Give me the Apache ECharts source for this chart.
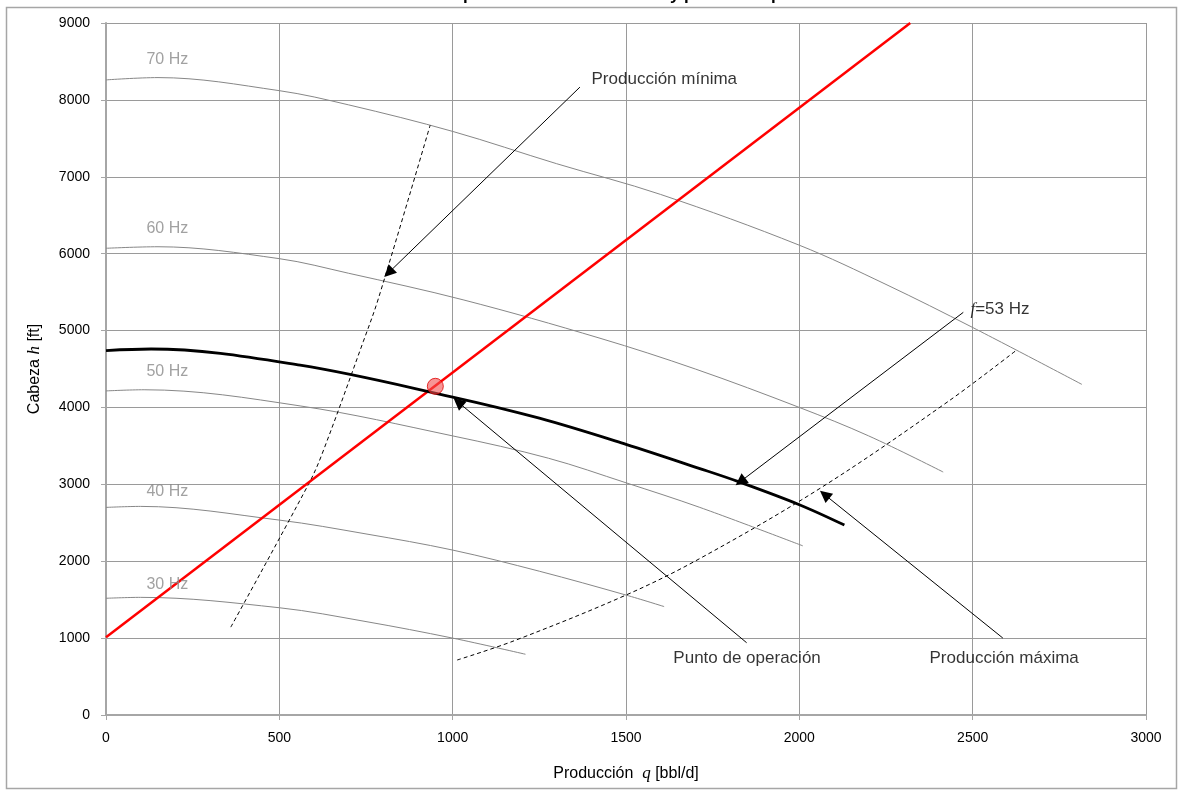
<!DOCTYPE html>
<html>
<head>
<meta charset="utf-8">
<script src="https://cdn.jsdelivr.net/npm/echarts@6/dist/echarts.min.js"></script>
<style>
  html, body { margin: 0; padding: 0; background: #ffffff; }
  #chart { width: 1183px; height: 793px; }
</style>
</head>
<body>
<div id="chart"></div>
<script>
// Pump head curves at several drive frequencies (q in bbl/d, h in ft)
const q70 = [0, 150, 500, 700, 1000, 1300, 1600, 2000, 2250, 2500, 2815];
const h70 = [8260, 8290, 8120, 7935, 7590, 7170, 6770, 6110, 5600, 5040, 4300];
const q60 = [0, 150, 500, 700, 1030, 1425, 1700, 2000, 2200, 2415];
const h60 = [6070, 6090, 5935, 5745, 5400, 4900, 4500, 4000, 3630, 3160];
const q50 = [0, 110, 560, 1000, 1276, 1500, 1713, 2010];
const h50 = [4215, 4230, 4020, 3630, 3340, 3020, 2700, 2200];
const q40 = [0, 100, 500, 750, 1000, 1250, 1500, 1610];
const h40 = [2700, 2713, 2535, 2355, 2145, 1870, 1560, 1410];
const q30 = [0, 100, 500, 750, 1000, 1210];
const h30 = [1518, 1530, 1395, 1215, 1000, 790];

// Selected frequency f = 53 Hz
const q53 = [0, 130, 560, 1000, 1250, 1500, 1713, 1824, 2000, 2130];
const h53 = [4740, 4760, 4550, 4135, 3860, 3520, 3205, 3035, 2735, 2470];

// System curve
const sysQ = [0, 2320];
const sysH = [1010, 9000];

// Operating point
const opQ = 950;
const opH = 4275;

// Minimum and maximum production limits
const minQ = [360, 584, 622, 742, 786, 935];
const minH = [1143, 3000, 3380, 4855, 5420, 7670];
const maxQ = [1013, 1177, 1500, 1713, 2064, 2430, 2625];
const maxH = [715, 965, 1560, 2035, 2960, 4080, 4740];

// Frequency labels (left edge, vertical centre)
const freqText = ['70 Hz', '60 Hz', '50 Hz', '40 Hz', '30 Hz'];
const freqTextQ = [118, 118, 118, 118, 118];
const freqTextH = [8520, 6320, 4460, 2900, 1690];

// Annotation labels and their arrows
const noteText = ['Producción mínima', '{i|f}=53 Hz', 'Punto de operación', 'Producción máxima'];
const noteTextQ = [1402, 2495, 1638, 2377];
const noteTextH = [8258, 5267, 728, 728];
const arrowFromQ = [1367, 2473, 1848, 2587];
const arrowFromH = [8166, 5237, 940, 1001];
const arrowToQ = [815, 1830, 1016, 2073];
const arrowToH = [5752, 3036, 4068, 2866];

// Axis ticks
const xMin = 0, xMax = 3000, xStep = 500;
const yMin = 0, yMax = 9000, yStep = 1000;

const FONT = "'Liberation Sans', Arial, sans-serif";
const SERIF = "'Liberation Serif', 'Times New Roman', serif";

const zip = (a, b) => a.map((v, i) => [v, b[i]]);

function pumpCurve(q, h, color, width) {
  return {
    type: 'line', data: zip(q, h), showSymbol: false, smooth: 0.35,
    lineStyle: { color: color, width: width }, silent: true, z: 3
  };
}

function dashedLimit(q, h) {
  return {
    type: 'line', data: zip(q, h), showSymbol: false, smooth: 0.35,
    lineStyle: { color: '#000', width: 1, type: [4, 3] }, silent: true, z: 3
  };
}

function textSeries(texts, qs, hs, style) {
  return {
    type: 'scatter', symbolSize: 1, silent: true, z: 10,
    itemStyle: { color: 'rgba(0,0,0,0)' },
    data: texts.map((t, i) => ({
      value: [qs[i], hs[i]],
      label: {
        show: true, position: [0, 0], align: 'left', verticalAlign: 'middle',
        formatter: t, color: style.color, fontSize: style.fontSize, fontFamily: FONT,
        rich: {
          i: { fontFamily: SERIF, fontStyle: 'italic', fontSize: style.fontSize, color: style.color }
        }
      }
    }))
  };
}

const plainNumber = v => String(v);

const chart = echarts.init(document.getElementById('chart'), null, { renderer: 'canvas' });

chart.setOption({
  animation: false,
  backgroundColor: '#ffffff',
  title: {
    text: 'Curvas de comportamiento de la bomba y punto de operación',
    left: 'center', top: -18,
    textStyle: { fontFamily: FONT, fontSize: 17, fontWeight: 'bold', color: '#000' }
  },
  graphic: [{
    type: 'rect', z: -1, silent: true,
    shape: { x: 6.5, y: 7.5, width: 1170, height: 781 },
    style: { fill: 'none', stroke: '#a6a6a6', lineWidth: 1.5 }
  }],
  grid: { left: 106, right: 37, top: 23, bottom: 78, outerBoundsMode: 'none' },
  xAxis: {
    type: 'value', min: xMin, max: xMax, interval: xStep,
    name: 'Producción  {i|q} [bbl/d]', nameLocation: 'middle', nameGap: 50,
    nameTextStyle: {
      fontFamily: FONT, fontSize: 16, color: '#000',
      rich: { i: { fontFamily: SERIF, fontStyle: 'italic', fontSize: 17, color: '#000' } }
    },
    axisLine: { show: true, lineStyle: { color: '#a6a6a6', width: 2 } },
    axisTick: { show: true, length: 5, lineStyle: { color: '#a6a6a6' } },
    axisLabel: { fontFamily: FONT, fontSize: 14, color: '#000', margin: 16, formatter: plainNumber },
    splitLine: { show: true, lineStyle: { color: '#9a9a9a', width: 1 } }
  },
  yAxis: {
    type: 'value', min: yMin, max: yMax, interval: yStep,
    name: 'Cabeza {i|h} [ft]', nameLocation: 'middle', nameGap: 63, nameRotate: 90,
    nameTextStyle: {
      fontFamily: FONT, fontSize: 16, color: '#000',
      rich: { i: { fontFamily: SERIF, fontStyle: 'italic', fontSize: 17, color: '#000' } }
    },
    axisLine: { show: true, lineStyle: { color: '#a6a6a6', width: 2 } },
    axisTick: { show: true, length: 5, lineStyle: { color: '#a6a6a6' } },
    axisLabel: { fontFamily: FONT, fontSize: 14, color: '#000', margin: 16, formatter: plainNumber },
    splitLine: { show: true, lineStyle: { color: '#9a9a9a', width: 1 } }
  },
  series: [
    pumpCurve(q70, h70, '#878787', 1),
    pumpCurve(q60, h60, '#878787', 1),
    pumpCurve(q50, h50, '#878787', 1),
    pumpCurve(q40, h40, '#878787', 1),
    pumpCurve(q30, h30, '#878787', 1),
    dashedLimit(minQ, minH),
    dashedLimit(maxQ, maxH),
    {
      type: 'line', data: zip(sysQ, sysH), showSymbol: false,
      lineStyle: { color: '#ff0000', width: 2.5 }, silent: true, z: 4
    },
    Object.assign(pumpCurve(q53, h53, '#000000', 2.8), { z: 5 }),
    {
      type: 'scatter', data: [[opQ, opH]], symbol: 'circle', symbolSize: 16, z: 6, silent: true,
      itemStyle: { color: 'rgba(240,80,80,0.75)', borderColor: '#e00000', borderWidth: 1 }
    },
    {
      type: 'lines', coordinateSystem: 'cartesian2d', z: 7, silent: true,
      symbol: ['none', 'path://M5,0 L10,14 L0,14 Z'], symbolSize: 12,
      lineStyle: { color: '#000', width: 1, opacity: 1, curveness: 0 },
      data: arrowFromQ.map((q, i) => ({
        coords: [[q, arrowFromH[i]], [arrowToQ[i], arrowToH[i]]]
      }))
    },
    textSeries(freqText, freqTextQ, freqTextH, { color: '#898989', fontSize: 16 }),
    textSeries(noteText, noteTextQ, noteTextH, { color: '#000', fontSize: 17 })
  ]
});
</script>
</body>
</html>
